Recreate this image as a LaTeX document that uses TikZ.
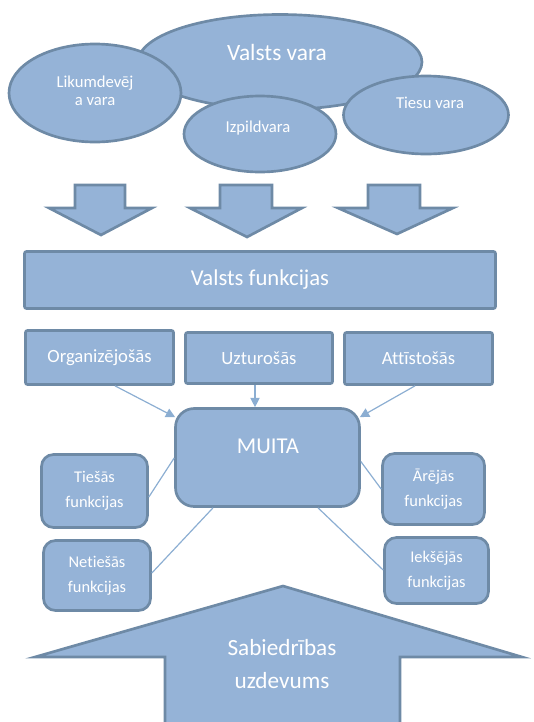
\documentclass[tikz,border=0pt]{standalone}
\usepackage{fontspec}
\setmainfont{Carlito}[Ligatures=NoCommon]
\usetikzlibrary{shapes.geometric,arrows.meta,calc}

\definecolor{boxfill}{RGB}{149,179,215}
\definecolor{boxline}{RGB}{110,138,166}
\definecolor{linkline}{RGB}{140,174,210}

\tikzset{
  vara/.style={ellipse, draw=boxline, fill=boxfill, line width=2pt, inner sep=0pt},
  funkc/.style={rectangle, draw=boxline, fill=boxfill, line width=2pt, rounded corners=1.5pt,
    inner sep=0pt, text=white, align=center},
  roundbox/.style={funkc, rounded corners=9pt},
  bigarrow/.style={draw=boxline, fill=boxfill, line width=2pt, line join=miter},
  link/.style={draw=linkline, line width=0.9pt},
  linkarrow/.style={link, -{Triangle[length=7pt,width=7pt]}},
  txt/.style={text=white, align=center, inner sep=0pt}
}

\begin{document}
\begin{tikzpicture}[x=0.75pt, y=-0.75pt]

  % Definitions
  \def\px{0.75pt}   % one pixel of the reference picture
  \def\small{\fontsize{12.5}{13.5}\selectfont}   % text in the small ellipses
  \def\fbox{\fontsize{12.3}{18.8}\selectfont}    % text in the function boxes

  \clip (0,0) rectangle (534,722);

  % Powers of the state
  \node [vara, minimum width=284*\px, minimum height=95*\px] (vv) at (280,62) {};
  \node [txt, font=\fontsize{17.5}{21}\selectfont] (vvtext) at (277,52) {Valsts vara};
  \node [vara, minimum width=172*\px, minimum height=98*\px] (lik) at (95,93) {};
  \node [txt, font=\small] (liktext) at (95,91) {Likumdevēj\\a vara};
  \node [vara, minimum width=152*\px, minimum height=76*\px] (izp) at (260,134) {};
  \node [txt, font=\small] (izptext) at (258,128) {Izpildvara};
  \node [vara, minimum width=165*\px, minimum height=78*\px] (ties) at (426,115) {};
  \node [txt, font=\small] (tiestext) at (430,103) {Tiesu vara};

  % Down arrows
  \draw [bigarrow] (75,185) -- (125,185) -- (125,208) -- (152,208) -- (101,235) -- (49,208) -- (75,208) -- cycle;
  \draw [bigarrow] (220,185) -- (272,185) -- (272,208) -- (302,208) -- (247,237) -- (190,208) -- (220,208) -- cycle;
  \draw [bigarrow] (368,185) -- (420,185) -- (420,208) -- (453,208) -- (397,234) -- (338,208) -- (368,208) -- cycle;

  % Functions of the state
  \node [funkc, minimum width=471*\px, minimum height=57*\px, font=\fontsize{17}{20}\selectfont] (vf) at (260,280) {Valsts funkcijas};
  \node [funkc, minimum width=148*\px, minimum height=54*\px, font=\fontsize{14}{17}\selectfont] (org) at (99.5,357.5) {Organizējošās};
  \node [funkc, minimum width=147*\px, minimum height=51*\px, font=\fontsize{14}{17}\selectfont] (uzt) at (259,358) {Uzturošās};
  \node [funkc, minimum width=148*\px, minimum height=52*\px, font=\fontsize{14}{17}\selectfont] (att) at (418.5,358.5) {Attīstošās};

  \draw [link] ($(org.north)+(12.5,0)$) -- ($(org.north)+(12.5,0)$ |- vf.south);
  \draw [link] ($(uzt.north)+(-2,0)$) -- ($(uzt.north)+(-2,0)$ |- vf.south);
  \draw [link] ($(att.north)+(-9.5,0)$) -- ($(att.north)+(-9.5,0)$ |- vf.south);

  % Customs
  \node [roundbox, rounded corners=14pt, minimum width=184*\px, minimum height=98*\px] (muita) at (267.5,457.5) {};
  \node [txt, font=\fontsize{17}{20}\selectfont] (muitatext) at (268,446) {MUITA};

  \coordinate (uztout) at ($(uzt.south)+(-4,0)$);
  \draw [linkarrow] ($(org.south)+(15.5,0)$) -- ($(muita.north west)+(1,10)$);
  \draw [linkarrow] (uztout) -- (uztout |- muita.north);
  \draw [linkarrow] ($(att.south)+(-3.5,0)$) -- ($(muita.north east)+(-1,10)$);

  \node [roundbox, minimum width=106*\px, minimum height=73*\px, font=\fbox] (tiesas) at (94.5,491) {Tiešās\\funkcijas};
  \node [roundbox, minimum width=107*\px, minimum height=70*\px, font=\fbox] (netiesas) at (97,575.5) {Netiešās\\funkcijas};
  \node [roundbox, minimum width=102*\px, minimum height=71*\px, font=\fbox] (arejas) at (433.5,489) {Ārējās\\funkcijas};
  \node [roundbox, minimum width=104*\px, minimum height=66*\px, font=\fbox] (ieksejas) at (436.5,570.5) {Iekšējās\\funkcijas};

  \draw [link] ($(tiesas.east)+(0,6)$) -- ($(muita.west)+(0,0.5)$);
  \draw [link] ($(netiesas.east)+(0,-2.5)$) -- ($(muita.south)+(-54.5,0)$);
  \draw [link] (arejas.west) -- ($(muita.east)+(0,4)$);
  \draw [link] ($(ieksejas.west)+(0,-0.5)$) -- ($(muita.south)+(50.5,0)$);

  % Task of society
  \draw [bigarrow] (35,657) -- (283,586) -- (522,657) -- (400,657) -- (400,730) -- (165,730) -- (165,657) -- cycle;
  \node [txt, font=\fontsize{17.4}{24.8}\selectfont] (sabtext) at (282,664) {Sabiedrības\\uzdevums};

\end{tikzpicture}
\end{document}
